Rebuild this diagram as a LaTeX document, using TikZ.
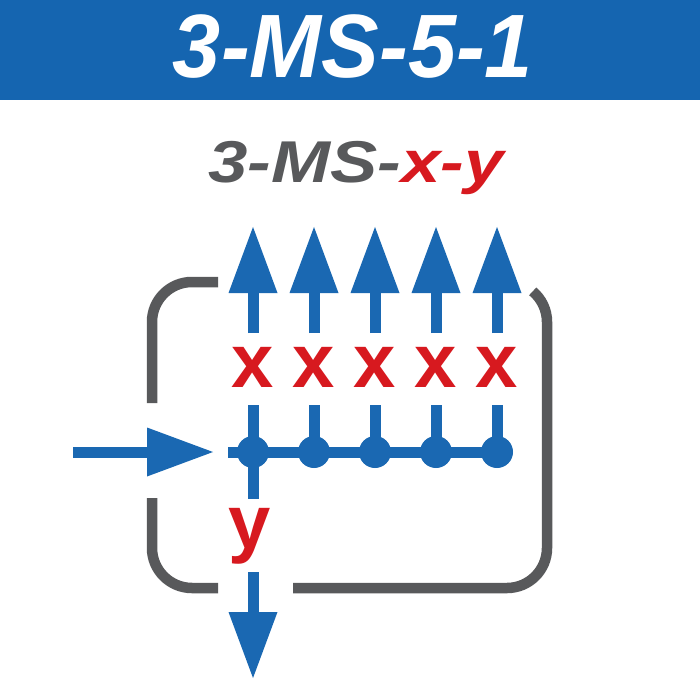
\documentclass[tikz,border=0pt]{standalone}
\usepackage{fontspec}
\usepackage{graphicx}
\setmainfont{Liberation Sans}
\usetikzlibrary{arrows.meta}
\definecolor{hdrblue}{HTML}{1565B0}
\definecolor{arrblue}{HTML}{1A68B2}
\definecolor{boxgray}{HTML}{58595B}
\definecolor{labred}{HTML}{D7191F}
\begin{document}
\begin{tikzpicture}[x=1pt,y=-1pt,
  flow/.style={draw=arrblue, line width=11pt},
  arrowline/.style={flow, -{Triangle[width=49pt,length=66pt,line width=0pt]}},
  dot/.style={circle, fill=arrblue, inner sep=0pt, minimum size=32pt},
  frame/.style={draw=boxgray, line width=10.5pt},
  lab/.style={text=labred, font=\bfseries\fontsize{76}{76}\selectfont, inner sep=0pt, anchor=base}]
\useasboundingbox (0,0) rectangle (700,700);
\fill[white] (0,0) rectangle (700,700);
\fill[hdrblue] (0,0) rectangle (700,100);
\node[text=white, font=\bfseries\itshape\fontsize{90}{90}\selectfont, anchor=base, inner sep=0pt] (title) at (353,78) {\scalebox{0.96}[1]{3-MS-5-1}};
\node[text=boxgray, font=\bfseries\itshape\fontsize{59}{59}\selectfont, anchor=base, inner sep=0pt] (sub) at (356,183) {\scalebox{1.2}[1]{3-MS-\textcolor{labred}{x-y}}};
% frame
\draw[frame, rounded corners=40pt] (218,282) -- (152,282) -- (152,403);
\draw[frame, rounded corners=40pt] (152,498) -- (152,588) -- (218,588);
\draw[frame] (293,588) -- (507,588) arc[start angle=-90, end angle=0, radius=40pt] -- (547,322) arc[start angle=0, end angle=50, radius=40pt];
% columns
\foreach \i/\cx in {1/253,2/314,3/375,4/436,5/497}{
  \coordinate (s\i) at (\cx,333);
  \coordinate (t\i) at (\cx,227);
  \coordinate (v\i) at (\cx,405);
  \node[dot] (d\i) at (\cx,452) {};
  \node[lab] (x\i) at (\cx,387) {x};
  \draw[arrowline] (s\i) -- (t\i);
  \draw[flow] (v\i) -- (d\i.center);
}
\coordinate (hs) at (228,452);
\draw[flow] (hs) -- (d5.center);
\coordinate (yb) at (253,499);
\draw[flow] (d1.center) -- (yb);
\node[lab] (ylab) at (250,548) {y};
\coordinate (ds) at (253,572);
\coordinate (dt) at (253,678);
\draw[arrowline] (ds) -- (dt);
\coordinate (ls) at (73,452);
\coordinate (lt) at (213,452);
\draw[arrowline] (ls) -- (lt);
\end{tikzpicture}
\end{document}
